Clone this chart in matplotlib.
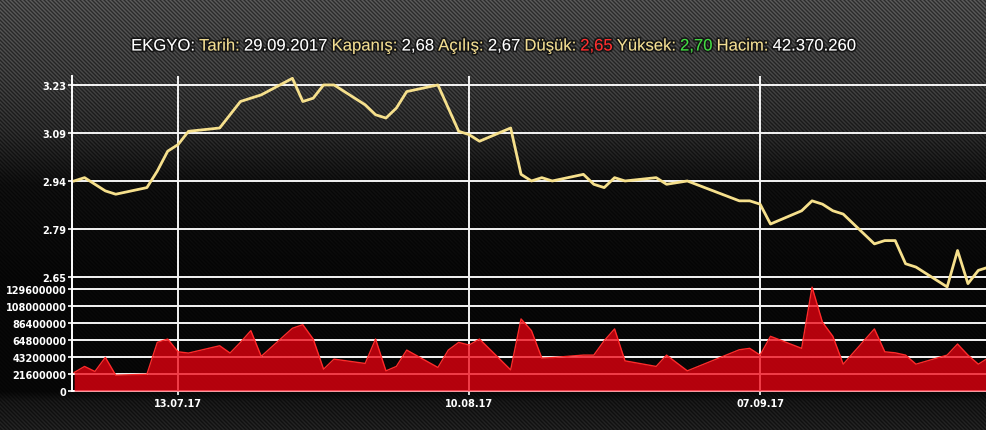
import numpy as np
import matplotlib
matplotlib.use("Agg")
import matplotlib.pyplot as plt
import matplotlib.patheffects as pe
from matplotlib.offsetbox import TextArea, HPacker, AnchoredOffsetbox

# trading days shown on the chart (Jul 3 - Sep 29, 2017)
dates = np.array([
    "2017-07-03", "2017-07-04", "2017-07-05", "2017-07-06", "2017-07-07",
    "2017-07-10", "2017-07-11", "2017-07-12", "2017-07-13", "2017-07-14",
    "2017-07-17", "2017-07-18", "2017-07-19", "2017-07-20", "2017-07-21",
    "2017-07-24", "2017-07-25", "2017-07-26", "2017-07-27", "2017-07-28",
    "2017-07-31", "2017-08-01", "2017-08-02", "2017-08-03", "2017-08-04",
    "2017-08-07", "2017-08-08", "2017-08-09", "2017-08-10", "2017-08-11",
    "2017-08-14", "2017-08-15", "2017-08-16", "2017-08-17", "2017-08-18",
    "2017-08-21", "2017-08-22", "2017-08-23", "2017-08-24", "2017-08-25",
    "2017-08-28", "2017-08-29", "2017-08-31",
    "2017-09-05", "2017-09-06", "2017-09-07", "2017-09-08",
    "2017-09-11", "2017-09-12", "2017-09-13", "2017-09-14", "2017-09-15",
    "2017-09-18", "2017-09-19", "2017-09-20", "2017-09-21", "2017-09-22",
    "2017-09-25", "2017-09-26", "2017-09-27", "2017-09-28", "2017-09-29",
], dtype="datetime64[D]")

# closing price
price = [
    2.94, 2.95, 2.93, 2.91, 2.90,
    2.92, 2.97, 3.03, 3.05, 3.09,
    3.10, 3.14, 3.18, 3.19, 3.20,
    3.25, 3.18, 3.19, 3.23, 3.23,
    3.17, 3.14, 3.13, 3.16, 3.21,
    3.23, 3.16, 3.09, 3.08, 3.06,
    3.10, 2.96, 2.94, 2.95, 2.94,
    2.96, 2.93, 2.92, 2.95, 2.94,
    2.95, 2.93, 2.94,
    2.88, 2.88, 2.87, 2.81,
    2.85, 2.88, 2.87, 2.85, 2.84,
    2.75, 2.76, 2.76, 2.69, 2.68,
    2.62, 2.73, 2.63, 2.67, 2.68,
]

# volume in millions of shares
volume_m = [
    23.5, 31.2, 24.8, 42.7, 20.1,
    21.3, 61.8, 66.0, 49.8, 48.2,
    57.5, 48.2, 61.8, 76.7, 44.0,
    79.7, 84.3, 66.0, 27.7, 40.5,
    35.0, 66.0, 25.6, 31.2, 52.0,
    29.9, 52.0, 61.8, 58.4, 66.0,
    26.8, 91.6, 76.7, 41.8, 42.5,
    45.6, 45.6, 63.9, 78.9, 38.3,
    31.2, 45.6, 25.6,
    52.4, 54.2, 45.6, 69.5,
    54.2, 132.0, 87.4, 69.5, 34.1,
    78.9, 49.8, 48.5, 45.6, 34.1,
    45.6, 59.7, 45.6, 34.1, 42.37,
]
volume = np.array(volume_m) * 1e6

price_ticks = [2.65, 2.795, 2.94, 3.085, 3.23]
price_labels = ["2.65", "2.79", "2.94", "3.09", "3.23"]
volume_ticks = [0, 21600000, 43200000, 64800000, 86400000, 108000000, 129600000]
date_ticks = np.array(["2017-07-13", "2017-08-10", "2017-09-07"], dtype="datetime64[D]")
date_labels = ["13.07.17", "10.08.17", "07.09.17"]

WHITE = "#ffffff"
YELLOW = "#f2dd92"
title_parts = [
    ("EKGYO:", WHITE), ("Tarih:", YELLOW), ("29.09.2017", WHITE),
    ("Kapanış:", YELLOW), ("2,68", WHITE), ("Açılış:", YELLOW), ("2,67", WHITE),
    ("Düşük:", YELLOW), ("2,65", "#ff3030"), ("Yüksek:", YELLOW), ("2,70", "#44dd44"),
    ("Hacim:", YELLOW), ("42.370.260", WHITE),
]

W, H = 987, 431
fig = plt.figure(figsize=(W / 100, H / 100), dpi=100)
fig.patch.set_facecolor("black")

# dark carbon-stripe background
yy, xx = np.mgrid[0:H, 0:W]
base = np.interp(yy, [0, 77, 130, 185, 280, 392, 402, 431],
                 [0.27, 0.21, 0.15, 0.05, 0.025, 0.025, 0.08, 0.11])
stripes = 0.5 + 0.5 * np.sin(2 * np.pi * (xx - yy) / 4.0)
val = np.clip(base * (0.65 + 0.7 * stripes), 0, 1)
bg = np.dstack([val, val, val])
fig.figimage(bg, xo=0, yo=0, origin="upper", zorder=-1)

left = 72 / W
width = 1 - left
ax_v = fig.add_axes([left, 1 - 392 / H, width, 113 / H])
ax_p = fig.add_axes([left, 1 - 279 / H, width, 202 / H], sharex=ax_v)
ax_v.set_zorder(1)
ax_p.set_zorder(2)

grid_kw = dict(color="#f4f4f4", linewidth=1.4)
tick_font = dict(fontsize=7, fontweight="bold", color="white")

for ax in (ax_p, ax_v):
    ax.set_facecolor("none")
    for s in ("top", "right", "bottom"):
        ax.spines[s].set_visible(False)
    ax.spines["left"].set_color("white")
    ax.spines["left"].set_linewidth(1.4)
    ax.set_axisbelow(True)
    ax.grid(True, **grid_kw)
    ax.tick_params(axis="y", colors="white", length=3, width=1.2, pad=1)

# price panel
ax_p.plot(dates, price, color="#f6e08c", linewidth=2, clip_on=False, zorder=3)
ax_p.set_ylim(2.647, 3.257)
ax_p.set_yticks(price_ticks)
ax_p.set_yticklabels(price_labels, **tick_font)
ax_p.tick_params(axis="x", length=0, labelbottom=False)

# volume panel
ax_v.fill_between(dates, volume, color="#f00010", alpha=0.75, linewidth=0, zorder=3)
ax_v.plot(dates, volume, color="#ff2a2a", linewidth=1, zorder=4)
ax_v.set_ylim(0, 143.6e6)
ax_v.set_yticks(volume_ticks)
ax_v.set_yticklabels([str(v) for v in volume_ticks], **tick_font)
ax_v.spines["bottom"].set_visible(True)
ax_v.spines["bottom"].set_color("white")
ax_v.spines["bottom"].set_linewidth(1.4)
ax_v.set_xlim(np.datetime64("2017-07-02T19:00"), np.datetime64("2017-09-28T20:00"))
ax_v.set_xticks(date_ticks)
ax_v.set_xticklabels(date_labels, **tick_font)
ax_v.tick_params(axis="x", colors="white", length=3, width=1.2, pad=2)

# multi-coloured header
shadow = [pe.withStroke(linewidth=2.5, foreground=(0, 0, 0, 0.6))]
areas = [TextArea(s, textprops=dict(color=c, fontsize=12, family="Liberation Sans",
                                    path_effects=shadow))
         for s, c in title_parts]
box = HPacker(children=areas, align="baseline", pad=0, sep=3)
header = AnchoredOffsetbox(loc="center", child=box, pad=0, borderpad=0, frameon=False,
                           bbox_to_anchor=(0.5, 1 - 47 / H), bbox_transform=fig.transFigure)
fig.add_artist(header)

fig.savefig("out.png", dpi=100, facecolor=fig.get_facecolor())
